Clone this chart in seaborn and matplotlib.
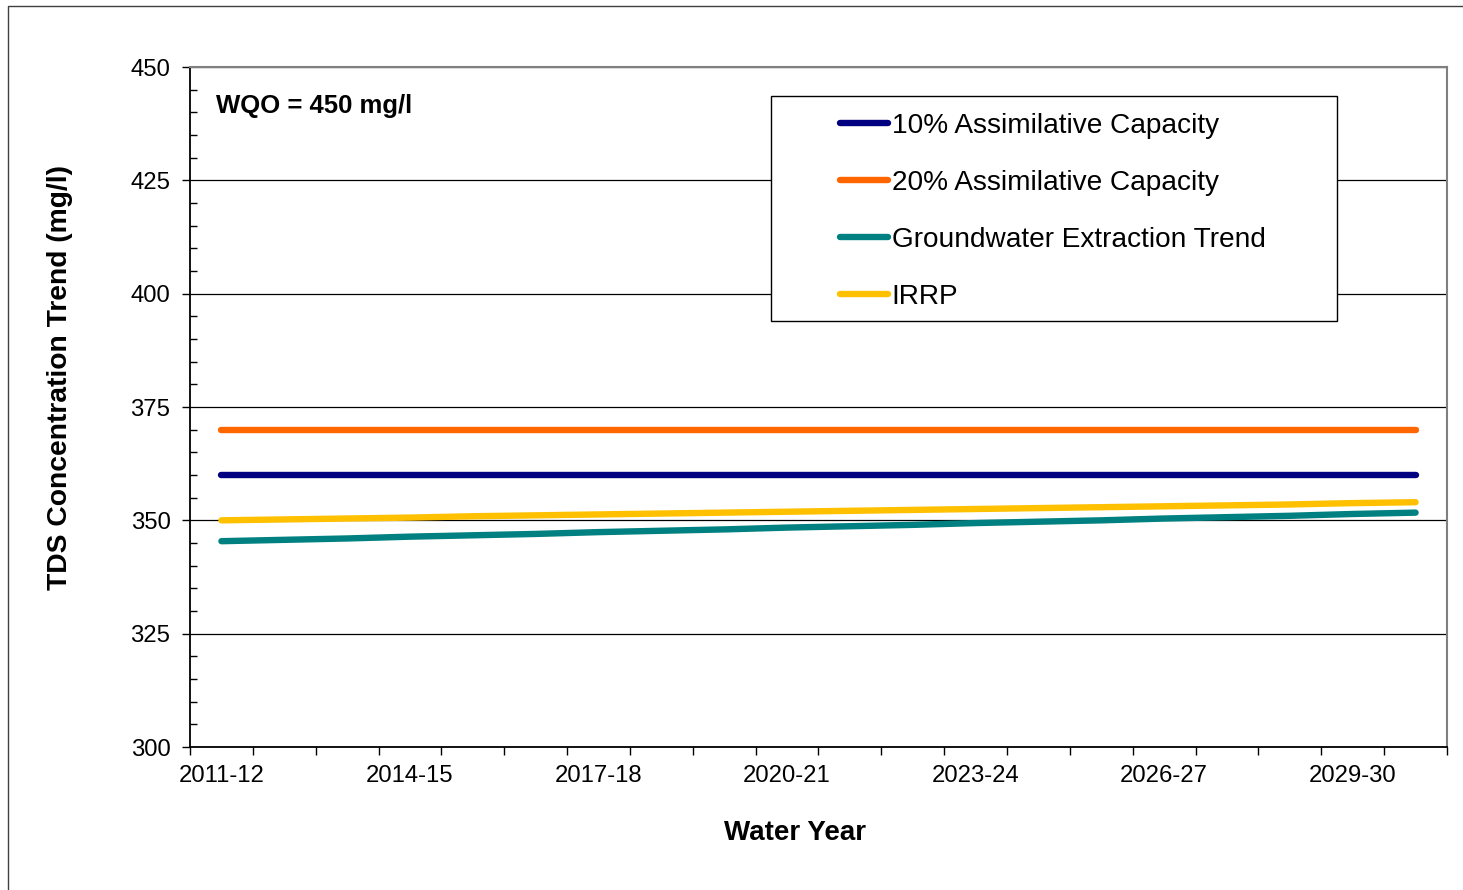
import matplotlib
matplotlib.use("Agg")
import matplotlib.pyplot as plt
from matplotlib.patches import Rectangle
from matplotlib.ticker import FixedLocator, MultipleLocator
import seaborn as sns
import pandas as pd

years = ["2011-12", "2012-13", "2013-14", "2014-15", "2015-16", "2016-17", "2017-18",
         "2018-19", "2019-20", "2020-21", "2021-22", "2022-23", "2023-24", "2024-25",
         "2025-26", "2026-27", "2027-28", "2028-29", "2029-30", "2030-31"]
series_names = ["10% Assimilative Capacity", "20% Assimilative Capacity",
                "Groundwater Extraction Trend", "IRRP"]
ac10 = [360.0] * 20
ac20 = [370.0] * 20
gw_trend = [345.4, 345.7, 346.0, 346.4, 346.7, 347.0, 347.4, 347.7, 348.0, 348.4,
            348.7, 349.0, 349.4, 349.7, 350.0, 350.4, 350.7, 351.0, 351.4, 351.7]
irrp = [350.0, 350.2, 350.4, 350.6, 350.9, 351.1, 351.3, 351.5, 351.7, 351.9,
        352.1, 352.3, 352.5, 352.7, 352.9, 353.1, 353.3, 353.5, 353.8, 354.0]
xtick_labels = ["2011-12", "2014-15", "2017-18", "2020-21", "2023-24", "2026-27", "2029-30"]
yticks = [300, 325, 350, 375, 400, 425, 450]
colors = ["#000080", "#FF6600", "#008080", "#FFC000"]

sns.set_theme(style="white")
plt.rcParams["font.family"] = ["Liberation Sans", "DejaVu Sans"]
plt.rcParams["text.color"] = "black"
plt.rcParams["axes.labelcolor"] = "black"
plt.rcParams["xtick.color"] = "black"
plt.rcParams["ytick.color"] = "black"

df = pd.DataFrame({
    "year": years * 4,
    "value": ac10 + ac20 + gw_trend + irrp,
    "series": sum([[n] * len(years) for n in series_names], []),
})
df["x"] = df["year"].map({y: i for i, y in enumerate(years)})

fig = plt.figure(figsize=(14.63, 8.90), dpi=100)
ax = fig.add_axes([190 / 1463, 1 - 747 / 890, (1447 - 190) / 1463, (747 - 67) / 890])

sns.lineplot(data=df, x="x", y="value", hue="series", hue_order=series_names,
             palette=colors, linewidth=4.6, legend=False, ax=ax,
             solid_capstyle="round", zorder=3)

ax.set_xlim(-0.5, len(years) - 0.5)
ax.set_ylim(300, 450)

# x ticks: labels at category centers, tick marks at boundaries
ax.xaxis.set_major_locator(FixedLocator([years.index(t) for t in xtick_labels]))
ax.set_xticklabels(xtick_labels)
ax.xaxis.set_minor_locator(FixedLocator([i - 0.5 for i in range(len(years) + 1)]))
ax.tick_params(axis="x", which="major", length=0, pad=13, labelsize=17.2, colors="black")
ax.tick_params(axis="x", which="minor", length=6, width=1, direction="out",
               color="black", bottom=True)

ax.set_yticks(yticks)
ax.yaxis.set_minor_locator(MultipleLocator(5))
ax.tick_params(axis="y", which="major", length=6, width=1, direction="out",
               pad=8, labelsize=17.2, left=True, colors="black")
ax.tick_params(axis="y", which="minor", length=5, width=1, direction="in",
               left=True, color="black")

ax.yaxis.grid(True, which="major", color="black", linewidth=0.9, zorder=1)
ax.xaxis.grid(False)
ax.set_axisbelow(True)

for s in ["left", "bottom"]:
    ax.spines[s].set_color("black")
    ax.spines[s].set_linewidth(1.3)
for s in ["top", "right"]:
    ax.spines[s].set_color("#808080")
    ax.spines[s].set_linewidth(1.5)

ax.set_xlabel("Water Year", fontsize=20, fontweight="bold", va="center", color="black")
ax.xaxis.set_label_coords((795 - 190) / 1257, (747 - 833) / 680)
ax.set_ylabel("TDS Concentration Trend (mg/l)", fontsize=20.3, fontweight="bold",
              va="center", color="black")
ax.yaxis.set_label_coords((60 - 190) / 1257, (747 - 377) / 680)

ax.text((216 - 190) / 1257, (747 - 106) / 680, "WQO = 450 mg/l", transform=ax.transAxes,
        fontsize=18.5, fontweight="bold", ha="left", va="center", color="black")

# legend box
box = Rectangle(((771 - 190) / 1257, (747 - 321) / 680), (1337 - 771) / 1257,
                (321 - 96) / 680, transform=ax.transAxes, facecolor="white",
                edgecolor="black", linewidth=1, zorder=4)
ax.add_patch(box)
handles = ax.get_lines()[:4]
leg = ax.legend(handles, series_names, loc="upper left",
                bbox_to_anchor=((834 - 190) / 1257, (747 - 107) / 680),
                frameon=False, fontsize=20.2, handlelength=1.72, handletextpad=0.14,
                labelspacing=1.11, borderpad=0.2, borderaxespad=0)
leg.set_zorder(5)
for t in leg.get_texts():
    t.set_color("black")
for h in leg.get_lines():
    h.set_linewidth(4.6)
    h.set_solid_capstyle("round")

# outer chart border
fig.patches.append(Rectangle((8 / 1463, -0.05), 1.2, 1.05 - 6 / 890,
                             transform=fig.transFigure, fill=False,
                             edgecolor="#404040", linewidth=1))

fig.savefig("out.png", dpi=100, facecolor="white")
